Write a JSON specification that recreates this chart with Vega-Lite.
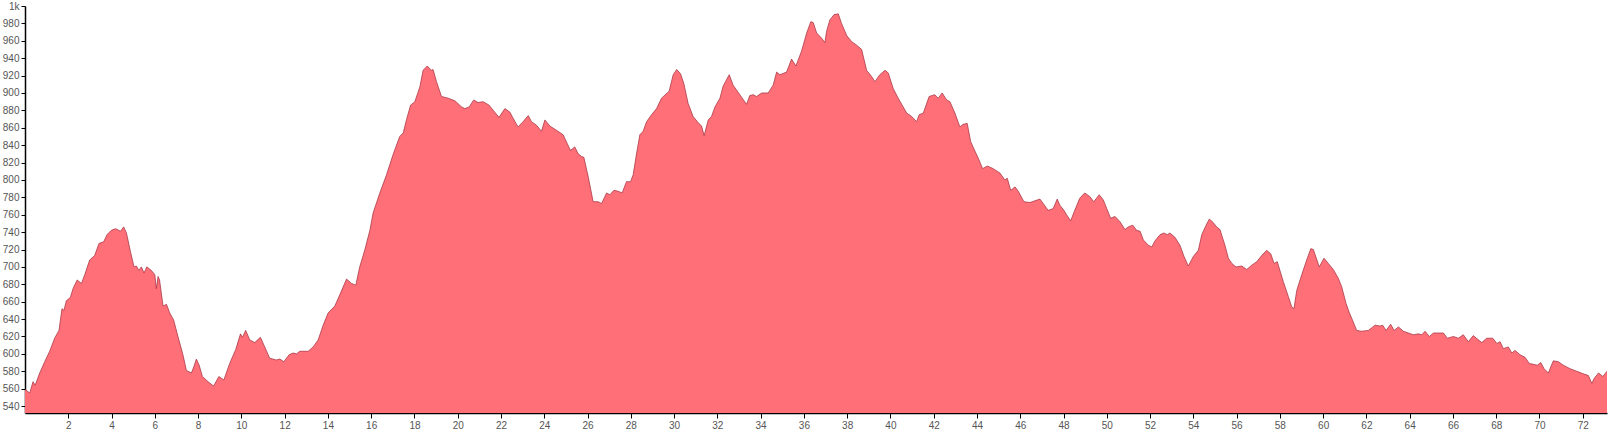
{
  "$schema": "https://vega.github.io/schema/vega-lite/v6.json",
  "autosize": {"type": "none"},
  "padding": {"left": 25, "top": 6, "right": 2, "bottom": 20},
  "width": 1582,
  "height": 407,
  "background": "white",
  "config": {"view": {"stroke": null}, "axis": {"labelFont": "Liberation Sans", "labelFontSize": 10, "labelColor": "#555", "domainColor": "#000", "tickColor": "#000", "grid": false, "title": null}},
  "data": {"values": [
    {"km":0,"ele":559},{"km":0.22,"ele":555},{"km":0.37,"ele":568},{"km":0.47,"ele":564},{"km":0.68,"ele":578},{"km":0.91,"ele":591},{"km":1.14,"ele":603},{"km":1.37,"ele":618},{"km":1.57,"ele":627},{"km":1.71,"ele":652},{"km":1.8,"ele":650},{"km":1.91,"ele":661},{"km":2.1,"ele":665},{"km":2.22,"ele":675},{"km":2.41,"ele":685},{"km":2.61,"ele":681},{"km":2.76,"ele":691},{"km":2.99,"ele":708},{"km":3.22,"ele":713},{"km":3.42,"ele":727},{"km":3.64,"ele":729},{"km":3.79,"ele":737},{"km":3.99,"ele":742},{"km":4.19,"ele":744},{"km":4.41,"ele":741},{"km":4.56,"ele":746},{"km":4.69,"ele":739},{"km":4.87,"ele":718},{"km":5.04,"ele":700},{"km":5.15,"ele":701},{"km":5.26,"ele":696},{"km":5.38,"ele":700},{"km":5.5,"ele":693},{"km":5.63,"ele":700},{"km":5.84,"ele":696},{"km":6.0,"ele":691},{"km":6.07,"ele":675},{"km":6.15,"ele":689},{"km":6.22,"ele":685},{"km":6.38,"ele":655},{"km":6.54,"ele":657},{"km":6.69,"ele":647},{"km":6.87,"ele":639},{"km":7.07,"ele":620},{"km":7.3,"ele":599},{"km":7.46,"ele":581},{"km":7.69,"ele":578},{"km":7.8,"ele":585},{"km":7.92,"ele":594},{"km":8.05,"ele":587},{"km":8.2,"ele":574},{"km":8.46,"ele":568},{"km":8.72,"ele":563},{"km":8.96,"ele":574},{"km":9.19,"ele":570},{"km":9.46,"ele":589},{"km":9.74,"ele":605},{"km":9.96,"ele":623},{"km":10.05,"ele":619},{"km":10.2,"ele":627},{"km":10.39,"ele":616},{"km":10.62,"ele":613},{"km":10.88,"ele":619},{"km":11.08,"ele":608},{"km":11.31,"ele":595},{"km":11.62,"ele":593},{"km":11.78,"ele":594},{"km":11.96,"ele":591},{"km":12.21,"ele":599},{"km":12.39,"ele":601},{"km":12.55,"ele":600},{"km":12.7,"ele":603},{"km":13.09,"ele":603},{"km":13.32,"ele":608},{"km":13.55,"ele":616},{"km":13.78,"ele":633},{"km":14.01,"ele":647},{"km":14.32,"ele":655},{"km":14.55,"ele":668},{"km":14.86,"ele":686},{"km":15.09,"ele":681},{"km":15.29,"ele":679},{"km":15.47,"ele":700},{"km":15.7,"ele":719},{"km":15.94,"ele":742},{"km":16.09,"ele":762},{"km":16.4,"ele":785},{"km":16.71,"ele":806},{"km":17.01,"ele":829},{"km":17.32,"ele":850},{"km":17.48,"ele":854},{"km":17.63,"ele":869},{"km":17.82,"ele":886},{"km":18.02,"ele":890},{"km":18.25,"ele":907},{"km":18.4,"ele":926},{"km":18.59,"ele":931},{"km":18.79,"ele":926},{"km":18.86,"ele":927},{"km":19.02,"ele":913},{"km":19.25,"ele":896},{"km":19.56,"ele":894},{"km":19.87,"ele":891},{"km":20.18,"ele":884},{"km":20.33,"ele":882},{"km":20.53,"ele":884},{"km":20.74,"ele":892},{"km":20.94,"ele":889},{"km":21.17,"ele":890},{"km":21.45,"ele":886},{"km":21.64,"ele":880},{"km":21.91,"ele":872},{"km":22.18,"ele":882},{"km":22.41,"ele":878},{"km":22.56,"ele":871},{"km":22.79,"ele":861},{"km":23.02,"ele":867},{"km":23.26,"ele":874},{"km":23.41,"ele":867},{"km":23.64,"ele":863},{"km":23.87,"ele":856},{"km":24.03,"ele":869},{"km":24.26,"ele":862},{"km":24.57,"ele":857},{"km":24.87,"ele":852},{"km":25.06,"ele":842},{"km":25.21,"ele":834},{"km":25.41,"ele":838},{"km":25.57,"ele":830},{"km":25.72,"ele":827},{"km":25.83,"ele":826},{"km":26.03,"ele":804},{"km":26.26,"ele":775},{"km":26.49,"ele":775},{"km":26.65,"ele":773},{"km":26.88,"ele":785},{"km":27.03,"ele":783},{"km":27.22,"ele":788},{"km":27.42,"ele":787},{"km":27.6,"ele":785},{"km":27.8,"ele":798},{"km":27.99,"ele":798},{"km":28.11,"ele":806},{"km":28.27,"ele":831},{"km":28.42,"ele":852},{"km":28.57,"ele":856},{"km":28.73,"ele":867},{"km":28.96,"ele":875},{"km":29.19,"ele":882},{"km":29.42,"ele":894},{"km":29.77,"ele":902},{"km":29.96,"ele":921},{"km":30.12,"ele":927},{"km":30.3,"ele":922},{"km":30.45,"ele":911},{"km":30.65,"ele":888},{"km":30.88,"ele":873},{"km":31.11,"ele":866},{"km":31.27,"ele":862},{"km":31.39,"ele":851},{"km":31.58,"ele":869},{"km":31.73,"ele":873},{"km":31.89,"ele":884},{"km":32.12,"ele":894},{"km":32.27,"ele":908},{"km":32.55,"ele":921},{"km":32.73,"ele":909},{"km":33.04,"ele":898},{"km":33.35,"ele":887},{"km":33.5,"ele":897},{"km":33.66,"ele":898},{"km":33.81,"ele":896},{"km":34.05,"ele":900},{"km":34.35,"ele":900},{"km":34.58,"ele":909},{"km":34.74,"ele":924},{"km":34.89,"ele":921},{"km":35.2,"ele":924},{"km":35.43,"ele":939},{"km":35.63,"ele":931},{"km":35.89,"ele":948},{"km":36.13,"ele":969},{"km":36.32,"ele":982},{"km":36.43,"ele":981},{"km":36.59,"ele":969},{"km":36.82,"ele":963},{"km":36.97,"ele":958},{"km":37.05,"ele":971},{"km":37.2,"ele":984},{"km":37.39,"ele":990},{"km":37.59,"ele":991},{"km":37.74,"ele":980},{"km":37.98,"ele":966},{"km":38.21,"ele":959},{"km":38.44,"ele":955},{"km":38.67,"ele":950},{"km":38.9,"ele":926},{"km":39.13,"ele":919},{"km":39.28,"ele":913},{"km":39.51,"ele":921},{"km":39.75,"ele":926},{"km":39.9,"ele":923},{"km":40.13,"ele":905},{"km":40.36,"ele":894},{"km":40.59,"ele":884},{"km":40.75,"ele":877},{"km":40.98,"ele":873},{"km":41.21,"ele":867},{"km":41.33,"ele":875},{"km":41.52,"ele":877},{"km":41.79,"ele":896},{"km":42.05,"ele":898},{"km":42.21,"ele":894},{"km":42.39,"ele":900},{"km":42.6,"ele":892},{"km":42.75,"ele":890},{"km":42.98,"ele":877},{"km":43.21,"ele":861},{"km":43.36,"ele":864},{"km":43.55,"ele":865},{"km":43.71,"ele":844},{"km":43.91,"ele":833},{"km":44.06,"ele":825},{"km":44.26,"ele":813},{"km":44.48,"ele":816},{"km":44.75,"ele":813},{"km":45.06,"ele":808},{"km":45.29,"ele":800},{"km":45.4,"ele":802},{"km":45.56,"ele":788},{"km":45.76,"ele":792},{"km":45.91,"ele":787},{"km":46.17,"ele":775},{"km":46.45,"ele":774},{"km":46.68,"ele":776},{"km":46.91,"ele":778},{"km":47.06,"ele":773},{"km":47.29,"ele":765},{"km":47.52,"ele":767},{"km":47.71,"ele":778},{"km":47.83,"ele":771},{"km":48.02,"ele":765},{"km":48.14,"ele":760},{"km":48.33,"ele":753},{"km":48.52,"ele":765},{"km":48.75,"ele":779},{"km":48.98,"ele":785},{"km":49.21,"ele":781},{"km":49.4,"ele":775},{"km":49.65,"ele":783},{"km":49.84,"ele":777},{"km":50.0,"ele":767},{"km":50.18,"ele":756},{"km":50.38,"ele":758},{"km":50.61,"ele":752},{"km":50.84,"ele":743},{"km":50.99,"ele":746},{"km":51.2,"ele":748},{"km":51.38,"ele":742},{"km":51.54,"ele":741},{"km":51.69,"ele":731},{"km":51.92,"ele":725},{"km":52.08,"ele":723},{"km":52.23,"ele":730},{"km":52.46,"ele":737},{"km":52.64,"ele":739},{"km":52.8,"ele":737},{"km":52.92,"ele":739},{"km":53.15,"ele":734},{"km":53.38,"ele":725},{"km":53.57,"ele":712},{"km":53.77,"ele":701},{"km":54.0,"ele":712},{"km":54.23,"ele":719},{"km":54.39,"ele":737},{"km":54.59,"ele":748},{"km":54.74,"ele":755},{"km":54.92,"ele":751},{"km":55.08,"ele":746},{"km":55.23,"ele":743},{"km":55.46,"ele":725},{"km":55.62,"ele":710},{"km":55.78,"ele":704},{"km":55.97,"ele":700},{"km":56.24,"ele":701},{"km":56.47,"ele":697},{"km":56.7,"ele":702},{"km":56.93,"ele":706},{"km":57.16,"ele":713},{"km":57.39,"ele":719},{"km":57.58,"ele":715},{"km":57.73,"ele":704},{"km":57.88,"ele":706},{"km":58.16,"ele":683},{"km":58.39,"ele":666},{"km":58.55,"ele":654},{"km":58.65,"ele":652},{"km":58.78,"ele":673},{"km":59.01,"ele":691},{"km":59.24,"ele":708},{"km":59.43,"ele":721},{"km":59.55,"ele":720},{"km":59.82,"ele":700},{"km":60.04,"ele":710},{"km":60.24,"ele":704},{"km":60.47,"ele":697},{"km":60.7,"ele":687},{"km":60.86,"ele":677},{"km":61.06,"ele":658},{"km":61.2,"ele":648},{"km":61.32,"ele":641},{"km":61.55,"ele":627},{"km":61.78,"ele":626},{"km":62.09,"ele":627},{"km":62.4,"ele":633},{"km":62.63,"ele":632},{"km":62.75,"ele":633},{"km":62.91,"ele":627},{"km":63.12,"ele":634},{"km":63.28,"ele":627},{"km":63.48,"ele":631},{"km":63.71,"ele":626},{"km":63.94,"ele":624},{"km":64.17,"ele":622},{"km":64.4,"ele":623},{"km":64.56,"ele":622},{"km":64.71,"ele":626},{"km":64.91,"ele":620},{"km":65.1,"ele":624},{"km":65.33,"ele":624},{"km":65.56,"ele":624},{"km":65.74,"ele":618},{"km":66.02,"ele":620},{"km":66.25,"ele":618},{"km":66.48,"ele":622},{"km":66.71,"ele":614},{"km":66.94,"ele":621},{"km":67.13,"ele":617},{"km":67.33,"ele":613},{"km":67.56,"ele":618},{"km":67.84,"ele":618},{"km":68.03,"ele":612},{"km":68.18,"ele":614},{"km":68.33,"ele":606},{"km":68.56,"ele":608},{"km":68.72,"ele":601},{"km":68.87,"ele":604},{"km":69.1,"ele":599},{"km":69.33,"ele":596},{"km":69.53,"ele":589},{"km":69.72,"ele":588},{"km":69.9,"ele":587},{"km":70.06,"ele":590},{"km":70.21,"ele":583},{"km":70.41,"ele":578},{"km":70.52,"ele":585},{"km":70.64,"ele":592},{"km":70.87,"ele":591},{"km":71.1,"ele":587},{"km":71.41,"ele":583},{"km":71.72,"ele":580},{"km":72.03,"ele":577},{"km":72.26,"ele":575},{"km":72.42,"ele":566},{"km":72.53,"ele":572},{"km":72.73,"ele":578},{"km":72.93,"ele":574},{"km":73.12,"ele":580}
  ]},
  "mark": {"type": "area", "color": "#ff6f78", "opacity": 1, "fillOpacity": 1, "line": {"color": "#9e2a3a", "strokeWidth": 0.7}, "clip": true, "interpolate": "linear"},
  "encoding": {
    "x": {"field": "km", "type": "quantitative", "scale": {"domain": [0, 73.12], "nice": false, "zero": false},
      "axis": {"values": [2,4,6,8,10,12,14,16,18,20,22,24,26,28,30,32,34,36,38,40,42,44,46,48,50,52,54,56,58,60,62,64,66,68,70,72], "format": "d", "tickSize": 5, "labelPadding": 2, "domainWidth": 1.5}},
    "y": {"field": "ele", "type": "quantitative", "scale": {"domain": [532, 1000], "nice": false, "zero": false},
      "axis": {"values": [540,560,580,600,620,640,660,680,700,720,740,760,780,800,820,840,860,880,900,920,940,960,980,1000], "labelExpr": "datum.value == 1000 ? '1k' : format(datum.value, 'd')", "tickSize": 4, "labelPadding": 2, "domainWidth": 1.5}}
  }
}
